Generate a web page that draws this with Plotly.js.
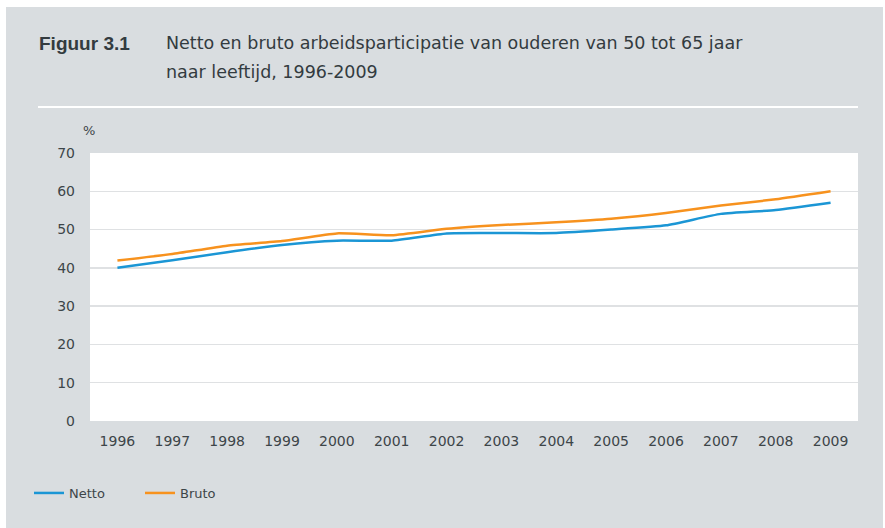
<!DOCTYPE html>
<html>
<head>
<meta charset="utf-8">
<script src="https://cdn.plot.ly/plotly-3.0.1.min.js"></script>
<style>
  html, body { margin: 0; padding: 0; background: #ffffff; width: 885px; height: 528px; overflow: hidden; }
  #chart { position: absolute; left: 6px; top: 7px; width: 877px; height: 521px; }
</style>
</head>
<body>
<div id="chart"></div>
<script>
const years = [1996, 1997, 1998, 1999, 2000, 2001, 2002, 2003, 2004, 2005, 2006, 2007, 2008, 2009];
const netto = [40.0, 42.0, 44.1, 46.0, 47.1, 47.1, 49.0, 49.1, 49.1, 50.0, 51.1, 54.1, 55.1, 57.0];
const bruto = [41.9, 43.6, 45.8, 47.0, 49.0, 48.5, 50.2, 51.2, 51.9, 52.8, 54.3, 56.3, 57.9, 60.0];
const yTicks = [0, 10, 20, 30, 40, 50, 60, 70];

const figLabel = 'Figuur 3.1';
const titleLines = ['Netto en bruto arbeidsparticipatie van ouderen van 50 tot 65 jaar', 'naar leeftijd, 1996-2009'];
const unitLabel = '%';

const W = 877, H = 521;
const M = { l: 84, r: 25, t: 146, b: 107 };
const pw = W - M.l - M.r, ph = H - M.t - M.b;
const px = x => (x - 6 - M.l) / pw;          // page x -> paper
const py = y => (H - M.b - (y - 7)) / ph;      // page y -> paper

const tickFont = { family: 'DejaVu Sans, sans-serif', size: 14, color: '#3d4549' };
const titleFont = { family: 'DejaVu Sans, sans-serif', size: 17.5, color: '#333b3f' };

const traces = [
  { x: years, y: netto, name: 'Netto', type: 'scatter', mode: 'lines',
    line: { color: '#1b96d5', width: 2.5, shape: 'spline', smoothing: 0.5 } },
  { x: years, y: bruto, name: 'Bruto', type: 'scatter', mode: 'lines',
    line: { color: '#f7921e', width: 2.5, shape: 'spline', smoothing: 0.5 } }
];

const layout = {
  width: W, height: H,
  margin: M,
  paper_bgcolor: '#d9dde0',
  plot_bgcolor: '#ffffff',
  showlegend: true,
  legend: {
    orientation: 'h', x: px(29), xanchor: 'left', y: py(493), yanchor: 'middle',
    bgcolor: 'rgba(0,0,0,0)', font: { family: 'DejaVu Sans, sans-serif', size: 13, color: '#3d4549' },
    entrywidth: 66, entrywidthmode: 'pixels'
  },
  xaxis: {
    range: [1995.5, 2009.5], tickmode: 'array', tickvals: years, ticktext: years.map(String),
    showgrid: false, zeroline: false, showline: false, ticks: '', tickfont: tickFont,
    ticklabelstandoff: 10, fixedrange: true
  },
  yaxis: {
    range: [0, 70], tickmode: 'array', tickvals: yTicks, ticktext: yTicks.map(String),
    showgrid: true, gridcolor: '#dfe1e3', gridwidth: 1.5, zeroline: false, showline: false,
    ticks: '', tickfont: tickFont, ticklabelstandoff: 14, fixedrange: true
  },
  annotations: [
    { text: '<b>' + figLabel + '</b>', xref: 'paper', yref: 'paper', x: px(37), y: py(43),
      xanchor: 'left', yanchor: 'middle', showarrow: false, align: 'left',
      font: { family: 'Liberation Sans Narrow, Liberation Sans, sans-serif', size: 19, color: '#333b3f' } },
    { text: titleLines[0], xref: 'paper', yref: 'paper', x: px(164), y: py(43), xanchor: 'left', yanchor: 'middle',
      showarrow: false, align: 'left', font: titleFont },
    { text: titleLines[1], xref: 'paper', yref: 'paper', x: px(164), y: py(72), xanchor: 'left', yanchor: 'middle',
      showarrow: false, align: 'left', font: titleFont },
    { text: unitLabel, xref: 'paper', yref: 'paper', x: px(89), y: py(130), xanchor: 'center', yanchor: 'middle',
      showarrow: false, font: { family: 'DejaVu Sans, sans-serif', size: 13, color: '#3d4549' } }
  ],
  shapes: [
    { type: 'line', xref: 'paper', yref: 'paper', x0: px(38), x1: px(858), y0: py(107), y1: py(107),
      line: { color: '#ffffff', width: 2 } }
  ]
};

Plotly.newPlot('chart', traces, layout, { displayModeBar: false, staticPlot: true });
</script>
</body>
</html>
